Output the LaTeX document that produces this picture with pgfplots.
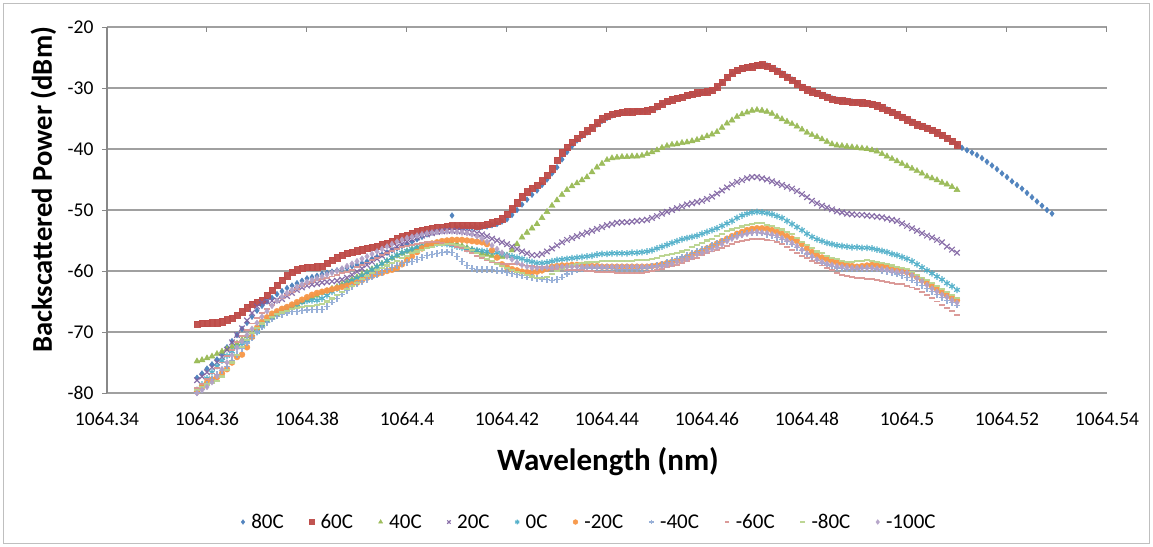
\documentclass[border=0pt]{standalone}
\usepackage{fontspec}
\setmainfont{Carlito}
\usepackage{pgfplots}
\usepackage{pgfplotstable}
\pgfplotsset{compat=1.18}
\definecolor{c80}{HTML}{4A7EBB}
\definecolor{c60}{HTML}{BE4B48}
\definecolor{c40}{HTML}{98B954}
\definecolor{c20}{HTML}{7D60A0}
\definecolor{c0}{HTML}{46AAC5}
\definecolor{n20c}{HTML}{F79646}
\definecolor{n40c}{HTML}{8EA9D4}
\definecolor{n60c}{HTML}{D99694}
\definecolor{n80c}{HTML}{B9D48E}
\definecolor{n100c}{HTML}{B3A2C7}
\definecolor{gridc}{HTML}{A0A0A0}
\definecolor{framec}{HTML}{BFBFBF}
% x = wavelength offset in pm above 1064 nm (358 = 1064.358 nm)
\pgfplotstableread{
x s80 s60 s40 s20 s0 n20 n40 n60 n80 n100
358 -77.5 -68.7 -74.8 -77.9 -79.5 -79.8 -80.0 -79.2 -79.5 -80.0
359 -76.8 -68.6 -74.6 -77.3 -78.6 -79.0 -79.4 -78.5 -79.0 -79.5
360 -76.0 -68.6 -74.3 -76.6 -77.6 -78.3 -78.6 -77.7 -78.6 -79.0
361 -75.3 -68.5 -74.0 -75.8 -76.6 -77.8 -77.8 -76.8 -78.3 -78.2
362 -74.5 -68.5 -73.6 -75.0 -75.6 -77.4 -77.0 -75.9 -78.0 -77.2
363 -73.5 -68.3 -73.2 -74.1 -74.7 -76.8 -76.3 -75.0 -77.3 -76.1
364 -72.5 -68.0 -72.8 -72.9 -73.9 -76.1 -75.6 -74.0 -76.2 -75.0
365 -71.5 -67.7 -72.4 -71.7 -73.2 -75.0 -74.7 -72.9 -75.0 -73.8
366 -70.5 -67.2 -71.9 -70.5 -72.5 -74.1 -73.7 -71.7 -73.8 -72.6
367 -69.5 -66.7 -71.3 -69.4 -71.9 -73.7 -72.7 -70.6 -72.5 -71.5
368 -68.5 -66.0 -70.7 -68.1 -71.4 -72.5 -71.8 -69.6 -71.3 -70.5
369 -67.5 -65.4 -70.0 -66.9 -70.8 -70.8 -70.9 -68.6 -70.2 -69.5
370 -66.5 -65.1 -69.4 -65.8 -70.0 -69.3 -70.0 -67.7 -69.3 -68.5
371 -65.7 -64.8 -68.8 -65.2 -69.1 -68.3 -69.2 -66.9 -68.6 -67.5
372 -65.0 -64.0 -68.2 -65.0 -68.2 -67.6 -68.5 -66.2 -68.0 -66.6
373 -64.4 -63.1 -67.7 -64.9 -67.5 -67.0 -67.9 -65.6 -67.5 -65.7
374 -63.8 -62.3 -67.2 -64.8 -66.9 -66.6 -67.4 -65.0 -67.1 -64.9
375 -63.3 -61.5 -66.7 -64.6 -66.4 -66.2 -67.1 -64.5 -66.8 -64.2
376 -62.8 -60.8 -66.3 -64.1 -66.0 -65.9 -66.9 -64.0 -66.5 -63.6
377 -62.4 -60.2 -65.9 -63.6 -65.7 -65.5 -66.7 -63.5 -66.2 -63.1
378 -62.0 -59.8 -65.5 -63.1 -65.4 -65.1 -66.6 -63.0 -66.0 -62.6
379 -61.6 -59.5 -65.1 -62.7 -65.1 -64.7 -66.5 -62.5 -65.9 -62.2
380 -61.2 -59.4 -64.7 -62.4 -64.9 -64.3 -66.4 -62.1 -65.8 -61.8
381 -61.0 -59.4 -64.3 -62.2 -64.8 -63.9 -66.3 -61.8 -65.7 -61.5
382 -60.8 -59.3 -64.0 -62.1 -64.8 -63.6 -66.3 -61.5 -65.6 -61.2
383 -60.5 -59.2 -63.6 -61.9 -64.5 -63.4 -66.3 -61.3 -65.4 -60.9
384 -60.3 -58.7 -63.3 -61.8 -64.0 -63.2 -65.8 -61.1 -65.0 -60.6
385 -60.1 -58.2 -62.9 -61.7 -63.4 -63.0 -65.1 -60.9 -64.5 -60.3
386 -59.9 -57.8 -62.6 -61.6 -62.9 -62.8 -64.5 -60.7 -64.0 -60.0
387 -59.7 -57.4 -62.2 -61.4 -62.4 -62.6 -63.8 -60.4 -63.5 -59.6
388 -59.5 -57.1 -61.8 -61.1 -62.0 -62.4 -63.2 -60.1 -63.0 -59.2
389 -59.2 -56.9 -61.4 -60.6 -61.6 -62.2 -62.6 -59.8 -62.5 -58.8
390 -59.0 -56.7 -61.0 -60.1 -61.2 -61.9 -62.1 -59.4 -61.9 -58.4
391 -58.7 -56.5 -60.6 -59.6 -60.8 -61.5 -61.7 -59.0 -61.3 -58.0
392 -58.4 -56.3 -60.2 -59.0 -60.3 -61.1 -61.4 -58.6 -60.8 -57.6
393 -58.0 -56.1 -59.7 -58.5 -59.8 -60.8 -61.0 -58.2 -60.3 -57.2
394 -57.7 -55.9 -59.3 -58.0 -59.3 -60.5 -60.6 -57.8 -59.9 -56.8
395 -57.3 -55.6 -58.8 -57.5 -58.8 -60.3 -60.2 -57.4 -59.5 -56.4
396 -57.0 -55.4 -58.4 -57.0 -58.3 -60.0 -59.8 -57.0 -59.1 -56.0
397 -56.6 -55.1 -57.9 -56.5 -57.8 -59.8 -59.4 -56.7 -58.7 -55.6
398 -56.3 -54.7 -57.5 -56.0 -57.4 -59.5 -59.1 -56.4 -58.3 -55.2
399 -55.9 -54.4 -57.1 -55.6 -57.0 -58.9 -58.8 -56.1 -57.9 -54.9
400 -55.6 -54.1 -56.8 -55.2 -56.7 -58.2 -58.6 -55.9 -57.5 -54.6
401 -55.2 -53.8 -56.5 -54.8 -56.4 -57.6 -58.4 -55.7 -57.1 -54.4
402 -54.8 -53.5 -56.2 -54.5 -56.1 -56.9 -58.1 -55.5 -56.8 -54.2
403 -54.4 -53.3 -56.0 -54.2 -55.9 -56.3 -57.8 -55.4 -56.5 -54.0
404 -54.0 -53.2 -55.8 -54.0 -55.7 -55.9 -57.5 -55.3 -56.2 -53.8
405 -53.7 -53.0 -55.6 -53.8 -55.6 -55.5 -57.3 -55.3 -56.0 -53.7
406 -53.5 -52.9 -55.5 -53.6 -55.5 -55.3 -57.1 -55.3 -55.8 -53.6
407 -53.3 -52.8 -55.4 -53.5 -55.5 -55.1 -57.0 -55.4 -55.7 -53.5
408 -53.2 -52.7 -55.4 -53.4 -55.6 -55.0 -56.9 -55.5 -55.6 -53.5
409 -50.9 -52.6 -55.5 -53.4 -55.8 -54.9 -57.0 -55.7 -55.6 -53.5
410 -53.0 -52.6 -55.6 -53.4 -56.0 -54.9 -57.6 -56.0 -55.7 -53.6
411 -52.9 -52.5 -55.9 -53.5 -56.2 -54.9 -58.4 -56.3 -55.9 -53.7
412 -52.9 -52.5 -56.2 -53.6 -56.4 -55.0 -59.1 -56.7 -56.2 -53.8
413 -52.9 -52.5 -56.5 -53.7 -56.5 -55.1 -59.6 -57.1 -56.6 -54.0
414 -52.9 -52.6 -56.8 -53.8 -56.6 -55.2 -59.8 -57.5 -57.0 -54.3
415 -52.8 -52.5 -57.1 -54.0 -56.7 -55.3 -59.8 -57.9 -57.5 -54.7
416 -52.7 -52.3 -57.3 -54.3 -56.8 -55.6 -59.8 -58.2 -58.0 -55.2
417 -52.5 -52.1 -57.5 -54.7 -56.9 -56.6 -59.8 -58.5 -58.4 -55.8
418 -52.3 -51.8 -57.6 -55.0 -57.0 -57.8 -59.9 -58.7 -58.8 -56.4
419 -51.9 -51.4 -57.7 -55.3 -57.2 -58.9 -60.0 -58.8 -59.2 -57.0
420 -51.5 -50.7 -57.5 -55.6 -57.4 -59.4 -60.2 -58.9 -59.5 -57.6
421 -50.8 -49.8 -56.6 -56.0 -57.6 -59.7 -60.4 -58.9 -59.8 -58.1
422 -50.0 -48.8 -55.6 -56.4 -57.8 -59.9 -60.6 -58.9 -60.1 -58.6
423 -49.1 -47.8 -54.5 -56.8 -58.0 -60.1 -60.8 -59.0 -60.4 -59.0
424 -48.3 -47.0 -53.7 -57.1 -58.3 -60.2 -61.0 -59.1 -60.7 -59.3
425 -47.5 -46.4 -53.0 -57.4 -58.5 -60.2 -61.1 -59.2 -60.9 -59.5
426 -46.8 -45.9 -52.3 -57.4 -58.7 -60.1 -61.2 -59.3 -61.1 -59.5
427 -45.9 -45.2 -51.3 -57.2 -58.7 -59.9 -61.3 -59.4 -61.2 -59.5
428 -45.0 -44.3 -50.3 -56.8 -58.6 -59.6 -61.4 -59.5 -61.0 -59.4
429 -44.0 -43.2 -49.3 -56.3 -58.4 -59.3 -61.5 -59.6 -60.5 -59.4
430 -43.0 -41.8 -48.4 -55.8 -58.2 -59.2 -61.4 -59.7 -60.0 -59.3
431 -41.7 -40.6 -47.5 -55.3 -58.1 -59.1 -61.0 -59.7 -59.6 -59.3
432 -40.5 -39.7 -46.7 -54.9 -58.0 -59.1 -60.5 -59.8 -59.3 -59.3
433 -39.5 -38.9 -46.1 -54.6 -57.9 -59.0 -60.1 -59.8 -59.0 -59.3
434 -38.6 -38.2 -45.6 -54.3 -57.8 -59.0 -59.8 -59.9 -58.8 -59.3
435 -37.9 -37.6 -45.1 -54.0 -57.7 -59.0 -59.6 -59.9 -58.7 -59.3
436 -37.3 -37.0 -44.6 -53.7 -57.6 -59.1 -59.5 -60.0 -58.6 -59.3
437 -36.6 -36.5 -43.8 -53.4 -57.5 -59.2 -59.5 -60.0 -58.5 -59.3
438 -36.0 -35.7 -43.0 -53.1 -57.3 -59.2 -59.5 -60.1 -58.5 -59.3
439 -35.4 -35.0 -42.4 -52.8 -57.2 -59.3 -59.5 -60.1 -58.4 -59.3
440 -34.9 -34.6 -41.8 -52.5 -57.2 -59.3 -59.6 -60.2 -58.4 -59.3
441 -34.5 -34.3 -41.5 -52.3 -57.1 -59.3 -59.6 -60.2 -58.3 -59.3
442 -34.2 -34.1 -41.4 -52.1 -57.1 -59.3 -59.7 -60.3 -58.3 -59.3
443 -34.1 -34.0 -41.3 -52.0 -57.1 -59.3 -59.7 -60.3 -58.3 -59.3
444 -34.0 -33.9 -41.3 -52.0 -57.1 -59.3 -59.7 -60.3 -58.3 -59.3
445 -33.9 -33.9 -41.2 -51.9 -57.0 -59.3 -59.7 -60.3 -58.3 -59.3
446 -33.8 -33.8 -41.2 -51.8 -57.0 -59.3 -59.7 -60.3 -58.2 -59.3
447 -33.8 -33.8 -41.1 -51.7 -56.9 -59.3 -59.6 -60.3 -58.2 -59.3
448 -33.7 -33.7 -40.8 -51.6 -56.8 -59.3 -59.5 -60.2 -58.2 -59.3
449 -33.6 -33.5 -40.5 -51.3 -56.6 -59.2 -59.3 -60.0 -58.0 -59.3
450 -33.2 -33.0 -40.2 -51.0 -56.3 -59.1 -59.1 -59.8 -57.8 -59.3
451 -32.7 -32.6 -39.8 -50.6 -56.0 -58.9 -58.9 -59.6 -57.6 -59.2
452 -32.3 -32.2 -39.5 -50.3 -55.7 -58.7 -58.6 -59.4 -57.4 -59.0
453 -32.0 -31.9 -39.3 -50.0 -55.4 -58.5 -58.3 -59.2 -57.2 -58.8
454 -31.7 -31.7 -39.2 -49.7 -55.1 -58.3 -58.0 -59.0 -57.1 -58.5
455 -31.5 -31.5 -39.0 -49.4 -54.8 -58.0 -57.7 -58.7 -56.8 -58.2
456 -31.3 -31.2 -38.9 -49.1 -54.6 -57.7 -57.4 -58.4 -56.5 -58.0
457 -31.1 -31.0 -38.7 -48.9 -54.4 -57.3 -57.1 -58.1 -56.1 -57.7
458 -30.9 -30.8 -38.5 -48.7 -54.2 -57.0 -56.8 -57.8 -55.7 -57.3
459 -30.8 -30.7 -38.2 -48.5 -53.9 -56.7 -56.5 -57.4 -55.4 -57.0
460 -30.7 -30.6 -37.9 -48.2 -53.6 -56.3 -56.2 -57.1 -55.0 -56.7
461 -30.5 -30.4 -37.6 -47.8 -53.3 -55.9 -55.8 -56.8 -54.7 -56.4
462 -30.0 -29.8 -37.2 -47.3 -53.0 -55.5 -55.5 -56.5 -54.3 -56.1
463 -29.2 -29.0 -36.5 -46.8 -52.6 -55.1 -55.2 -56.2 -53.9 -55.6
464 -28.4 -28.2 -35.8 -46.3 -52.2 -54.7 -54.8 -55.9 -53.5 -55.1
465 -27.7 -27.5 -35.3 -45.8 -51.8 -54.3 -54.5 -55.6 -53.2 -54.7
466 -27.2 -27.1 -34.7 -45.4 -51.3 -53.9 -54.2 -55.3 -52.9 -54.4
467 -26.9 -26.8 -34.3 -45.1 -50.9 -53.6 -54.0 -55.1 -52.7 -54.1
468 -26.7 -26.6 -34.0 -44.8 -50.6 -53.3 -53.8 -54.9 -52.5 -53.9
469 -26.5 -26.5 -33.7 -44.6 -50.4 -53.1 -53.7 -54.8 -52.3 -53.7
470 -26.3 -26.3 -33.6 -44.6 -50.3 -53.0 -53.7 -54.8 -52.2 -53.6
471 -26.2 -26.2 -33.7 -44.8 -50.4 -53.0 -53.8 -54.8 -52.2 -53.7
472 -26.3 -26.4 -33.9 -45.0 -50.5 -53.1 -54.0 -54.9 -52.4 -53.8
473 -26.7 -26.8 -34.2 -45.3 -50.7 -53.3 -54.2 -55.0 -52.6 -54.0
474 -27.1 -27.2 -34.7 -45.6 -51.0 -53.6 -54.5 -55.3 -52.9 -54.2
475 -27.6 -27.7 -35.1 -45.9 -51.3 -53.9 -54.8 -55.6 -53.2 -54.6
476 -28.1 -28.2 -35.5 -46.2 -51.8 -54.3 -55.2 -56.0 -53.6 -55.0
477 -28.6 -28.7 -35.9 -46.5 -52.3 -54.7 -55.6 -56.5 -54.0 -55.4
478 -29.2 -29.3 -36.3 -46.9 -52.8 -55.1 -56.1 -57.0 -54.6 -55.9
479 -29.8 -29.9 -36.8 -47.4 -53.3 -55.6 -56.6 -57.5 -55.2 -56.5
480 -30.2 -30.3 -37.3 -47.9 -53.9 -56.3 -57.2 -57.9 -55.8 -57.1
481 -30.5 -30.6 -37.7 -48.5 -54.4 -56.9 -57.8 -58.3 -56.3 -57.6
482 -30.8 -30.9 -38.0 -48.9 -54.8 -57.4 -58.3 -58.7 -56.8 -58.1
483 -31.1 -31.2 -38.4 -49.3 -55.1 -57.8 -58.7 -59.1 -57.1 -58.5
484 -31.4 -31.5 -38.8 -49.6 -55.4 -58.1 -59.0 -59.5 -57.5 -58.8
485 -31.7 -31.8 -39.2 -49.9 -55.6 -58.4 -59.3 -59.9 -57.8 -59.0
486 -31.9 -32.0 -39.4 -50.2 -55.8 -58.6 -59.5 -60.3 -58.1 -59.2
487 -32.0 -32.1 -39.5 -50.4 -55.9 -58.8 -59.6 -60.6 -58.3 -59.3
488 -32.1 -32.2 -39.6 -50.6 -56.0 -59.0 -59.7 -60.8 -58.5 -59.4
489 -32.2 -32.3 -39.7 -50.7 -56.1 -59.2 -59.7 -61.0 -58.5 -59.5
490 -32.3 -32.3 -39.8 -50.8 -56.1 -59.3 -59.7 -61.1 -58.4 -59.5
491 -32.4 -32.4 -39.9 -50.8 -56.2 -59.2 -59.6 -61.2 -58.3 -59.5
492 -32.5 -32.5 -40.0 -50.9 -56.2 -59.1 -59.6 -61.3 -58.2 -59.5
493 -32.6 -32.7 -40.2 -51.0 -56.3 -59.0 -59.6 -61.3 -58.3 -59.5
494 -32.8 -32.9 -40.4 -51.1 -56.5 -59.1 -59.7 -61.5 -58.5 -59.6
495 -33.1 -33.2 -40.8 -51.2 -56.7 -59.2 -59.9 -61.6 -58.7 -59.7
496 -33.5 -33.6 -41.2 -51.4 -56.9 -59.3 -60.1 -61.8 -58.9 -59.8
497 -33.9 -34.0 -41.6 -51.6 -57.2 -59.5 -60.3 -62.0 -59.1 -60.0
498 -34.3 -34.4 -42.0 -51.8 -57.4 -59.7 -60.5 -62.1 -59.3 -60.1
499 -34.7 -34.8 -42.4 -52.2 -57.7 -60.0 -60.8 -62.2 -59.5 -60.2
500 -35.1 -35.2 -42.8 -52.6 -58.0 -60.2 -61.1 -62.4 -59.7 -60.3
501 -35.5 -35.6 -43.2 -53.0 -58.4 -60.6 -61.5 -62.7 -60.1 -60.7
502 -35.9 -36.0 -43.6 -53.4 -58.9 -61.0 -61.9 -63.0 -60.6 -61.2
503 -36.2 -36.3 -44.0 -53.8 -59.4 -61.5 -62.4 -63.4 -61.1 -61.7
504 -36.5 -36.6 -44.5 -54.2 -59.9 -62.0 -62.9 -63.9 -61.5 -62.3
505 -36.9 -36.9 -44.8 -54.5 -60.4 -62.5 -63.4 -64.4 -62.0 -62.9
506 -37.3 -37.3 -45.1 -54.9 -60.9 -63.0 -63.9 -65.0 -62.5 -63.4
507 -37.7 -37.7 -45.5 -55.3 -61.4 -63.5 -64.4 -65.5 -63.0 -63.9
508 -38.2 -38.2 -45.8 -56.0 -62.0 -64.0 -64.8 -66.1 -63.5 -64.3
509 -38.8 -38.7 -46.2 -56.5 -62.5 -64.4 -65.2 -66.6 -63.9 -64.8
510 -39.3 -39.3 -46.7 -57.0 -63.1 -64.8 -65.6 -67.2 -64.4 -65.2
511 -39.8 nan nan nan nan nan nan nan nan nan
512 -40.2 nan nan nan nan nan nan nan nan nan
513 -40.6 nan nan nan nan nan nan nan nan nan
514 -41.0 nan nan nan nan nan nan nan nan nan
515 -41.5 nan nan nan nan nan nan nan nan nan
516 -42.1 nan nan nan nan nan nan nan nan nan
517 -42.7 nan nan nan nan nan nan nan nan nan
518 -43.3 nan nan nan nan nan nan nan nan nan
519 -44.0 nan nan nan nan nan nan nan nan nan
520 -44.6 nan nan nan nan nan nan nan nan nan
521 -45.3 nan nan nan nan nan nan nan nan nan
522 -45.9 nan nan nan nan nan nan nan nan nan
523 -46.5 nan nan nan nan nan nan nan nan nan
524 -47.2 nan nan nan nan nan nan nan nan nan
525 -47.9 nan nan nan nan nan nan nan nan nan
526 -48.6 nan nan nan nan nan nan nan nan nan
527 -49.3 nan nan nan nan nan nan nan nan nan
528 -50.0 nan nan nan nan nan nan nan nan nan
529 -50.6 nan nan nan nan nan nan nan nan nan
}\datatab
\begin{document}
\begin{tikzpicture}
\begin{axis}[
  scale only axis, width=1000bp, height=366bp,
  xmin=340, xmax=540, ymin=-80, ymax=-20,
  clip=false,
  axis line style={draw=none},
  xtick={340,360,380,400,420,440,460,480,500,520,540},
  xticklabels={1064.34,1064.36,1064.38,1064.4,1064.42,1064.44,1064.46,1064.48,1064.5,1064.52,1064.54},
  ytick={-80,-70,-60,-50,-40,-30,-20},
  yticklabels={-80,-70,-60,-50,-40,-30,-20},
  xtick pos=left, ytick pos=left,
  major tick length=0pt,
  ymajorgrids, major grid style={color=gridc, line width=1.1bp},
  tick label style={font=\fontsize{19.5bp}{23bp}\selectfont, text=black},
  xticklabel style={yshift=-16bp},
  yticklabel style={xshift=-10bp},
  xlabel={\textbf{Wavelength (nm)}},
  ylabel={\textbf{Backscattered Power (dBm)}},
  xlabel style={font=\fontsize{31bp}{36bp}\selectfont, at={(axis description cs:0.501,-0.1885)}, anchor=center},
  ylabel style={font=\fontsize{28.6bp}{33bp}\selectfont, at={(axis description cs:-0.0635,0.555)}, anchor=center, rotate=0},
  legend columns=10,
  legend style={draw=none, fill=none, at={(axis description cs:0.134,-0.3525)}, anchor=west,
    inner sep=0pt, font=\fontsize{21bp}{25bp}\selectfont,
    /tikz/every even column/.append style={column sep=23.5bp},
    /tikz/every odd column/.append style={column sep=4.5bp},
    nodes={inner xsep=2bp, inner ysep=1bp}},
  legend image code/.code={\draw[mark repeat=2,mark phase=2,#1,mark size=2.4bp] plot coordinates {(0bp,0bp) (4bp,0bp) (8bp,0bp)};},
]
\addplot[only marks, mark=diamond*, mark size=2.9bp, color=c80, opacity=0.95] table[x=x,y=s80]{\datatab};
\addlegendentry{80C}
\addplot[only marks, mark=square*, mark size=3.2bp, color=c60, opacity=0.95] table[x=x,y=s60]{\datatab};
\addlegendentry{60C}
\addplot[only marks, mark=triangle*, mark size=3.5bp, color=c40, opacity=0.95] table[x=x,y=s40]{\datatab};
\addlegendentry{40C}
\addplot[only marks, mark=x, mark size=3.9bp, color=c20, opacity=0.9, mark options={line width=1.2bp}] table[x=x,y=s20]{\datatab};
\addlegendentry{20C}
\addplot[only marks, mark=asterisk, mark size=3.3bp, color=c0, opacity=0.9, mark options={line width=1.2bp}] table[x=x,y=s0]{\datatab};
\addlegendentry{0C}
\addplot[only marks, mark=*, mark size=3bp, color=n20c, opacity=0.95] table[x=x,y=n20]{\datatab};
\addlegendentry{-20C}
\addplot[only marks, mark=+, mark size=3.3bp, color=n40c, opacity=0.9, mark options={line width=1.2bp}] table[x=x,y=n40]{\datatab};
\addlegendentry{-40C}
\addplot[only marks, mark=-, mark size=3bp, color=n60c, opacity=0.95, mark options={line width=1.9bp}] table[x=x,y=n60]{\datatab};
\addlegendentry{-60C}
\addplot[only marks, mark=-, mark size=3.3bp, color=n80c, opacity=0.95, mark options={line width=2.1bp}] table[x=x,y=n80]{\datatab};
\addlegendentry{-80C}
\addplot[only marks, mark=diamond*, mark size=3bp, color=n100c, opacity=0.95] table[x=x,y=n100]{\datatab};
\addlegendentry{-100C}
\draw[gridc!85!black, line width=1.1bp] (axis cs:340,-80) -- (axis cs:340,-20);
\pgfplotsinvokeforeach{-80,-70,-60,-50,-40,-30,-20}{\draw[gridc!85!black, line width=1bp] (axis cs:340,#1) -- ++(-5bp,0bp);}
\pgfplotsinvokeforeach{360,380,400,420,440,460,480,500,520,540}{\draw[gridc!85!black, line width=1bp] (axis cs:#1,-20) -- ++(0bp,-5bp);}
\end{axis}
\draw[framec, line width=1bp] (-103bp,-150bp) rectangle (1042bp,389bp);
\pgfresetboundingbox
\path[use as bounding box] (-107bp,-154bp) rectangle (1046bp,393bp);
\end{tikzpicture}
\end{document}
